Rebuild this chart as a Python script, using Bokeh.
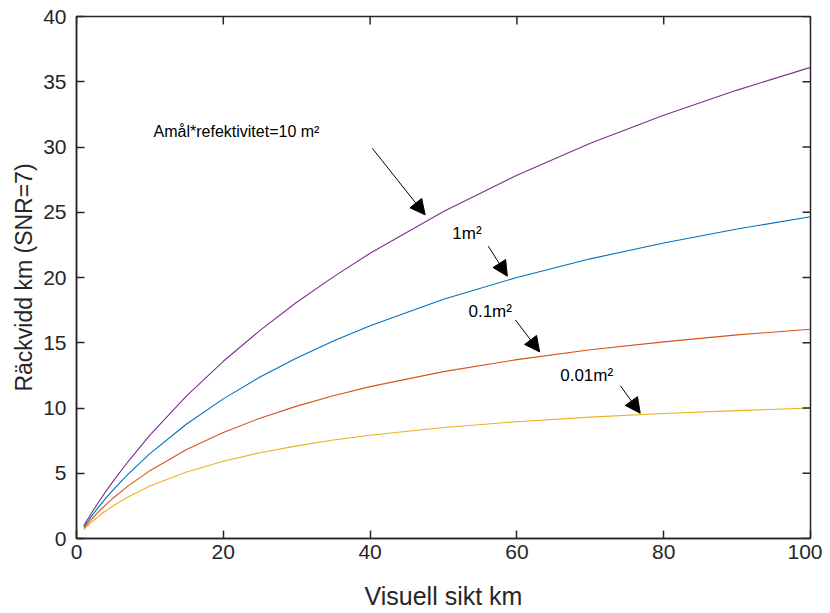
import math
from bokeh.plotting import figure
from bokeh.models import Range1d, Arrow, NormalHead, Label, FixedTicker
from bokeh.embed import file_html
from bokeh.resources import INLINE

# Visibility (km)
visibility = [1, 1.5, 2, 3, 4, 5, 7, 10, 15, 20, 25, 30, 35, 40, 50, 60, 70, 80, 90, 100]
# Range (km) for each target area * reflectivity
range_10m2 = [0.987, 1.457, 1.912, 2.782, 3.608, 4.395, 5.879, 7.914, 10.926, 13.58, 15.95, 18.10, 20.05, 21.86, 25.06, 27.84, 30.28, 32.43, 34.36, 36.10]
range_1m2 = [0.879, 1.286, 1.674, 2.406, 3.088, 3.730, 4.917, 6.505, 8.773, 10.70, 12.37, 13.83, 15.14, 16.31, 18.33, 20.00, 21.43, 22.65, 23.72, 24.65]
range_01m2 = [0.774, 1.119, 1.444, 2.044, 2.592, 3.10, 4.014, 5.198, 6.818, 8.128, 9.22, 10.145, 10.94, 11.64, 12.79, 13.71, 14.46, 15.07, 15.60, 16.04]
range_001m2 = [0.672, 0.959, 1.223, 1.701, 2.126, 2.510, 3.183, 4.018, 5.098, 5.92, 6.57, 7.10, 7.545, 7.913, 8.50, 8.95, 9.30, 9.58, 9.80, 10.00]

series = [
    (range_10m2, "#7E2F8E"),
    (range_1m2, "#0072BD"),
    (range_01m2, "#D95319"),
    (range_001m2, "#EDB120"),
]

# Annotations: text, text position, arrow start, arrow end (data units)
ann_text = ["Amål*refektivitet=10 m²", "1m²", "0.1m²", "0.01m²"]
ann_x = [10.5, 51.2, 53.4, 65.9]
ann_y = [31.2, 23.4, 17.4, 12.5]
arrow_x0 = [40.3, 56.1, 59.8, 74.1]
arrow_y0 = [29.9, 22.4, 16.75, 11.7]
arrow_x1 = [47.5, 58.7, 63.1, 76.8]
arrow_y1 = [24.8, 20.1, 14.3, 9.6]

x_ticks = [0, 20, 40, 60, 80, 100]
y_ticks = [0, 5, 10, 15, 20, 25, 30, 35, 40]
x_min, x_max = 0, 100
y_min, y_max = 0, 40

FONT = "Liberation Sans"
AX = "#262626"

p = figure(width=822, height=612, output_backend="svg", toolbar_location=None,
           x_range=Range1d(x_min, x_max), y_range=Range1d(y_min, y_max),
           min_border_left=76, min_border_right=12, min_border_top=16, min_border_bottom=73,
           x_axis_label="Visuell sikt km", y_axis_label="Räckvidd km (SNR=7)")
p.xgrid.visible = False
p.ygrid.visible = False
p.outline_line_color = AX
p.outline_line_width = 1.5
p.background_fill_color = "white"
p.border_fill_color = "white"

for ys, col in series:
    p.line(visibility, ys, line_color=col, line_width=1.1)

for ax, ticks in ((p.xaxis[0], x_ticks), (p.yaxis[0], y_ticks)):
    ax.ticker = FixedTicker(ticks=ticks)
    ax.major_tick_in = 8
    ax.major_tick_out = 0
    ax.minor_tick_line_color = None
    ax.axis_line_color = AX
    ax.axis_line_width = 1.5
    ax.major_tick_line_color = AX
    ax.major_tick_line_width = 1.5
    ax.major_label_text_font = FONT
    ax.major_label_text_color = AX
    ax.major_label_text_font_size = "21px"
    ax.axis_label_text_font = FONT
    ax.axis_label_text_font_style = "normal"
    ax.axis_label_text_color = AX

p.xaxis[0].major_label_standoff = 6
p.yaxis[0].major_label_standoff = 10
p.xaxis[0].axis_label_text_font_size = "25px"
p.yaxis[0].axis_label_text_font_size = "23px"
p.xaxis[0].axis_label_standoff = 20
p.yaxis[0].axis_label_standoff = 3

# Inward ticks on top and right edges (half of each dash is clipped by the frame)
p.scatter(x=x_ticks, y=[y_max] * len(x_ticks), marker="dash", size=16, angle=math.pi / 2,
          line_color=AX, line_width=1.5)
p.scatter(x=[x_max] * len(y_ticks), y=y_ticks, marker="dash", size=16,
          line_color=AX, line_width=1.5)

sizes = ["16px", "17px", "17px", "17px"]
for t, x, y, s in zip(ann_text, ann_x, ann_y, sizes):
    p.add_layout(Label(x=x, y=y, text=t, text_font=FONT, text_font_size=s,
                       text_color="black", text_baseline="middle", text_align="left"))

for xs, ys, xe, ye in zip(arrow_x0, arrow_y0, arrow_x1, arrow_y1):
    p.add_layout(Arrow(end=NormalHead(size=15, fill_color="black", line_color="black", line_width=1),
                       x_start=xs, y_start=ys, x_end=xe, y_end=ye,
                       line_color="black", line_width=1))

open("out.html", "w").write(file_html(p, INLINE))
